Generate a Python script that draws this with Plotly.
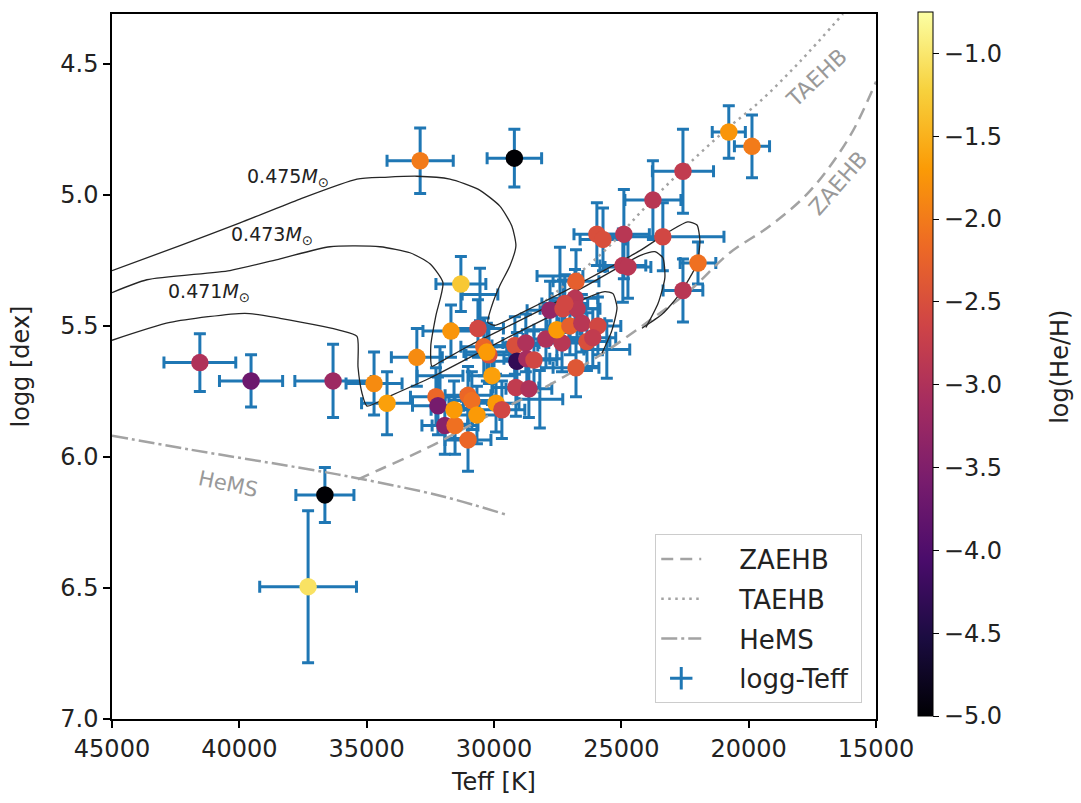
import plotly.graph_objects as go

# ---------------- data ----------------
teff = [32900, 29200, 20780, 19870, 22580, 23760, 25960, 25720, 24900, 23370,
        24940, 24740, 21990, 22580, 26780, 31300, 31690, 30630, 33030, 34710,
        34200, 36320, 30400, 30200, 30280, 30080, 32280, 32200, 31930, 31530,
        31570, 31020, 30870, 30670, 29920, 29690, 31020, 29180, 28750, 29100,
        28710, 28430, 29140, 28630, 27960, 27330, 27800, 27290, 26820, 26740,
        27220, 27530, 27020, 26550, 25920, 26350, 26120, 26780, 41550, 39540,
        36640, 37300]
logg = [4.87, 4.86, 4.76, 4.815, 4.91, 5.02, 5.15, 5.17, 5.15, 5.16,
        5.27, 5.275, 5.26, 5.365, 5.33, 5.34, 5.52, 5.51, 5.62, 5.72,
        5.795, 5.71, 5.58, 5.61, 5.60, 5.69, 5.77, 5.805, 5.88, 5.88,
        5.82, 5.765, 5.785, 5.84, 5.795, 5.82, 5.935, 5.575, 5.565, 5.635,
        5.625, 5.63, 5.735, 5.74, 5.55, 5.565, 5.44, 5.435, 5.395, 5.435,
        5.415, 5.515, 5.50, 5.49, 5.50, 5.56, 5.545, 5.66, 5.64, 5.71,
        6.145, 6.495]
log_he = [-2.0, -5.0, -1.75, -2.0, -2.8, -2.9, -2.5, -2.5, -2.9, -2.6,
          -2.9, -2.9, -2.1, -2.9, -2.3, -1.3, -1.75, -2.6, -1.85, -1.85,
          -1.65, -3.2, -2.2, -2.5, -1.7, -1.65, -2.2, -3.6, -3.4, -2.1,
          -1.7, -2.2, -2.1, -1.7, -1.7, -2.6, -2.2, -2.5, -3.0, -4.3,
          -3.1, -2.6, -2.8, -3.0, -3.0, -2.9, -3.3, -2.6, -2.9, -2.9,
          -2.6, -1.7, -2.3, -2.9, -2.6, -2.5, -2.8, -2.4, -3.0, -3.7,
          -5.0, -1.05]
teff_err = [1300, 1070, 650, 690, 1200, 1100, 900, 900, 1000, 2400,
            900, 900, 700, 780, 900, 980, 1100, 1000, 1000, 1100,
            1000, 1500, 900, 900, 900, 900, 1000, 1000, 900, 900,
            900, 900, 900, 900, 900, 900, 900, 900, 900, 900,
            900, 900, 900, 900, 900, 900, 900, 900, 900, 900,
            900, 900, 900, 900, 900, 900, 900, 900, 1410, 1240,
            1140, 1900]
logg_err = [0.125, 0.11, 0.10, 0.12, 0.16, 0.15, 0.12, 0.12, 0.17, 0.13,
            0.14, 0.12, 0.08, 0.12, 0.12, 0.105, 0.10, 0.11, 0.11, 0.12,
            0.12, 0.14, 0.11, 0.11, 0.11, 0.11, 0.11, 0.11, 0.11, 0.11,
            0.11, 0.11, 0.11, 0.11, 0.11, 0.11, 0.12, 0.11, 0.11, 0.11,
            0.11, 0.11, 0.11, 0.11, 0.11, 0.11, 0.11, 0.11, 0.11, 0.11,
            0.11, 0.11, 0.11, 0.11, 0.11, 0.11, 0.11, 0.11, 0.11, 0.10,
            0.105, 0.29]

# stars with error bars only (no He abundance)
teff_nohe = [30550, 25570, 32120, 28200, 27410]
logg_nohe = [5.38, 5.59, 5.69, 5.78, 5.31]
teff_err_nohe = [700, 900, 900, 900, 900]
logg_err_nohe = [0.10, 0.11, 0.11, 0.11, 0.11]

# reference sequences
zaehb_teff = [35340, 34480, 32515, 30550, 28200, 25840, 23880, 22310, 20740, 19170, 17600, 16030, 15000]
zaehb_logg = [6.086, 6.048, 5.961, 5.859, 5.745, 5.612, 5.479, 5.365, 5.221, 5.119, 4.986, 4.777, 4.568]
taehb_teff = [28200, 26630, 25450, 24270, 23090, 21915, 20740, 19560, 17990, 16300]
taehb_logg = [5.422, 5.297, 5.194, 5.069, 4.951, 4.842, 4.739, 4.644, 4.492, 4.310]
hems_teff = [45000, 41940, 37230, 35260, 32000, 29570]
hems_logg = [5.919, 5.972, 6.048, 6.083, 6.151, 6.219]

# evolutionary tracks
trk475_teff = [24190, 23370, 22700, 22030, 21915, 22030, 22390, 23090, 24270, 25840,
               27410, 28980, 29960, 30240, 30080, 29770, 29370, 29140, 29300, 29770,
               30630, 31730, 33030, 34280, 35380, 37620, 39975, 42330, 45000]
trk475_logg = [5.509, 5.453, 5.377, 5.263, 5.176, 5.115, 5.103, 5.138, 5.213, 5.297,
               5.377, 5.453, 5.498, 5.487, 5.422, 5.346, 5.270, 5.194, 5.119, 5.043,
               4.978, 4.940, 4.929, 4.933, 4.940, 5.016, 5.107, 5.194, 5.289]
trk473_teff = [24035, 23560, 23290, 23370, 23680, 24270, 25060, 26230, 27800, 29370,
               30945, 32120, 32440, 32480, 32280, 32005, 32515, 33300, 34480, 36440,
               38400, 40370, 43630, 45000]
trk473_logg = [5.506, 5.415, 5.316, 5.240, 5.217, 5.232, 5.274, 5.339, 5.422, 5.498,
               5.574, 5.638, 5.654, 5.574, 5.460, 5.335, 5.263, 5.221, 5.198, 5.198,
               5.244, 5.289, 5.324, 5.373]
trk471_teff = [25760, 25370, 25170, 25330, 25645, 26430, 27800, 29370, 30945, 32515,
               34090, 34990, 35185, 35340, 35380, 36050, 36720, 38400, 39780, 42720, 45000]
trk471_logg = [5.604, 5.517, 5.430, 5.377, 5.369, 5.396, 5.464, 5.540, 5.620, 5.699,
               5.768, 5.806, 5.756, 5.657, 5.540, 5.517, 5.502, 5.471, 5.452, 5.487, 5.555]

track_labels = ["0.475<i>M</i><sub>⊙</sub>", "0.473<i>M</i><sub>⊙</sub>", "0.471<i>M</i><sub>⊙</sub>"]
track_label_teff = [38100, 38700, 41200]
track_label_logg = [4.933, 5.157, 5.373]

x_ticks = [45000, 40000, 35000, 30000, 25000, 20000, 15000]
y_ticks = [4.5, 5.0, 5.5, 6.0, 6.5, 7.0]
cb_ticks = [-1.0, -1.5, -2.0, -2.5, -3.0, -3.5, -4.0, -4.5, -5.0]
legend_names = ["ZAEHB", "TAEHB", "HeMS", "logg-Teff"]

# ---------------- figure ----------------
FONT = "DejaVu Sans"
GRAY = "#a3a3a3"
BLUE = "#1f77b4"
PAD = "&nbsp;" * 4
TAIL = "&nbsp;"

fig = go.Figure()

# error bars
fig.add_trace(go.Scatter(
    x=teff + teff_nohe, y=logg + logg_nohe, mode="markers",
    marker=dict(size=2, color=BLUE),
    error_x=dict(type="data", array=teff_err + teff_err_nohe, color=BLUE, thickness=3, width=6),
    error_y=dict(type="data", array=logg_err + logg_err_nohe, color=BLUE, thickness=3, width=6),
    showlegend=False, hoverinfo="skip"))

# reference lines
fig.add_trace(go.Scatter(x=zaehb_teff, y=zaehb_logg, mode="lines", name=PAD + legend_names[0] + TAIL,
                         legendgroup="a",
                         line=dict(color=GRAY, width=2.5, dash="12px,7px", shape="spline")))
fig.add_trace(go.Scatter(x=taehb_teff, y=taehb_logg, mode="lines", name=PAD + legend_names[1] + TAIL,
                         legendgroup="b",
                         line=dict(color=GRAY, width=2.5, dash="2.5px,4.5px", shape="spline")))
fig.add_trace(go.Scatter(x=hems_teff, y=hems_logg, mode="lines", name=PAD + legend_names[2] + TAIL,
                         legendgroup="c",
                         line=dict(color=GRAY, width=2.5, dash="16px,4px,3px,4px", shape="spline")))

# tracks
for tx, ty in [(trk475_teff, trk475_logg), (trk473_teff, trk473_logg), (trk471_teff, trk471_logg)]:
    fig.add_trace(go.Scatter(x=tx, y=ty, mode="lines", showlegend=False, hoverinfo="skip",
                             line=dict(color="#262626", width=1.3, shape="spline", smoothing=0.6)))

# coloured markers
fig.add_trace(go.Scatter(
    x=teff, y=logg, mode="markers", showlegend=False,
    marker=dict(size=17.5, color=log_he, colorscale="Inferno", cmin=-5.0, cmax=-0.75,
                line=dict(width=0),
                colorbar=dict(
                    x=1.055, xanchor="left", xpad=0, y=0.5035, yanchor="middle", ypad=0,
                    len=0.999, lenmode="fraction", thickness=15,
                    outlinecolor="black", outlinewidth=1,
                    tickvals=cb_ticks, tickformat=".1f", ticks="outside", ticklen=6,
                    tickcolor="black", tickfont=dict(family=FONT, size=24, color="#222")))))

# legend entry for errorbar symbol
fig.add_trace(go.Scatter(x=[None], y=[None], mode="markers", name=PAD + legend_names[3] + TAIL,
                         legendgroup="d",
                         marker=dict(symbol="cross-thin-open", size=20, color=BLUE,
                                     line=dict(color=BLUE, width=3))))

annotations = []
for t, g, txt in zip(track_label_teff, track_label_logg, track_labels):
    annotations.append(dict(x=t, y=g, text=txt, showarrow=False,
                            font=dict(family=FONT, size=19, color="#222")))
annotations.append(dict(x=40450, y=6.105, text="HeMS", showarrow=False, textangle=12,
                        font=dict(family=FONT, size=21, color="#999")))
annotations.append(dict(x=17350, y=4.555, text="TAEHB", showarrow=False, textangle=-43,
                        font=dict(family=FONT, size=22, color="#999")))
annotations.append(dict(x=16500, y=4.955, text="ZAEHB", showarrow=False, textangle=-49,
                        font=dict(family=FONT, size=22, color="#999")))
# colorbar label
annotations.append(dict(xref="paper", yref="paper", x=1.240, y=0.5, text="log(He/H)",
                        showarrow=False, textangle=-90, xanchor="center", yanchor="middle",
                        font=dict(family=FONT, size=24, color="#222")))

axis_common = dict(showline=True, mirror=True, linecolor="black", linewidth=1.5,
                   ticks="outside", ticklen=7, tickwidth=1.5, tickcolor="black",
                   showgrid=False, zeroline=False,
                   tickfont=dict(family=FONT, size=24, color="#222"))

fig.update_layout(
    width=1081, height=803,
    margin=dict(l=112, r=205, t=12, b=82),
    plot_bgcolor="white", paper_bgcolor="white",
    font=dict(family=FONT, size=24, color="#222"),
    xaxis=dict(range=[45000, 15000], tickvals=x_ticks, tickformat="d",
               title=dict(text="Teff [K]", font=dict(family=FONT, size=24, color="#222"), standoff=12),
               **axis_common),
    yaxis=dict(range=[7.0, 4.31], tickvals=y_ticks, tickformat=".1f",
               title=dict(text="logg [dex]", font=dict(family=FONT, size=24, color="#222"), standoff=24),
               **axis_common),
    legend=dict(x=0.982, y=0.022, xanchor="right", yanchor="bottom",
                bgcolor="white", bordercolor="#cccccc", borderwidth=1,
                font=dict(family=FONT, size=26, color="#222"),
                tracegroupgap=3, itemwidth=40),
    annotations=annotations,
)

fig.write_html("out.html")
